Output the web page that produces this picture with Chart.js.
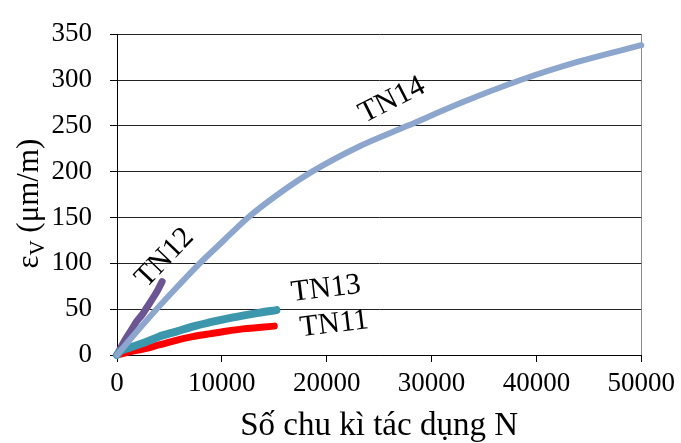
<!DOCTYPE html>
<html>
<head>
<meta charset="utf-8">
<script src="https://cdn.jsdelivr.net/npm/chart.js@4.4.1/dist/chart.umd.min.js"></script>
<style>
  body { margin: 0; background: #fff; }
</style>
</head>
<body>
<canvas id="chart" width="681" height="443"></canvas>
<script>
// Axis ranges / ticks
const xTicks = [0, 10000, 20000, 30000, 40000, 50000];
const yTicks = [0, 50, 100, 150, 200, 250, 300, 350];

// Series (N, strain in µm/m)
const tn14X = [0, 2000, 3770, 5800, 7890, 10000, 12400, 15200, 18600, 23000, 27700, 33000, 38500, 44000, 50000];
const tn14Y = [0, 27, 50, 75, 100, 123, 149, 174, 200, 227, 250, 276, 300, 320, 338];

const tn12X = [0, 500, 900, 1400, 1900, 2400, 2800, 3300, 3800, 4300];
const tn12Y = [0, 11, 19, 28, 37, 44, 51, 60, 69, 80];

const tn13X = [0, 300, 1200, 2500, 4000, 5650, 7200, 8800, 10400, 12000, 13500, 15200];
const tn13Y = [0, 4, 8, 13, 20, 25.5, 31, 35.5, 39.5, 43, 46, 49];

const tn11X = [0, 1000, 2500, 4000, 5650, 7200, 8800, 10400, 12000, 13500, 15000];
const tn11Y = [0, 3, 6.5, 11, 16, 20, 23, 26, 28.5, 30, 31.5];

const seriesNames = ['TN14', 'TN13', 'TN12', 'TN11'];

const FONT = "'Liberation Serif', 'Times New Roman', serif";

function toPoints(xs, ys) {
    return xs.map((x, i) => ({ x: x, y: ys[i] }));
}

function lineDataset(label, xs, ys, color, width, order) {
    return {
        label: label,
        data: toPoints(xs, ys),
        borderColor: color,
        backgroundColor: color,
        borderWidth: width,
        borderCapStyle: 'round',
        borderJoinStyle: 'round',
        pointRadius: 0,
        showLine: true,
        cubicInterpolationMode: 'monotone',
        clip: false,
        order: order
    };
}

/**
 * Rotated series labels + y axis title with subscript
 */
const annotations = {
    id: 'annotations',
    afterDraw(chart, args, opts) {
        const ctx = chart.ctx;
        const xs = chart.scales.x;
        const ys = chart.scales.y;

        ctx.save();
        ctx.fillStyle = '#000';
        ctx.textAlign = 'center';
        ctx.textBaseline = 'middle';
        ctx.font = '30px ' + FONT;
        opts.labels.forEach(l => {
            ctx.save();
            ctx.translate(xs.getPixelForValue(l.x), ys.getPixelForValue(l.y));
            ctx.rotate(l.angle * Math.PI / 180);
            ctx.fillText(l.text, 0, 0);
            ctx.restore();
        });
        ctx.restore();

        // y title: εV (µm/m), drawn rotated with a subscript V
        ctx.save();
        const big = '31px ' + FONT;
        const small = '21px ' + FONT;
        ctx.font = big;
        const wEps = ctx.measureText('ε').width;
        const wRest = ctx.measureText(' (μm/m)').width;
        ctx.font = small;
        const wSub = ctx.measureText('V').width;
        const total = wEps + wSub + wRest;
        const cy = (chart.chartArea.top + chart.chartArea.bottom) / 2 + 9;

        ctx.translate(opts.titleX, cy);
        ctx.rotate(-Math.PI / 2);
        ctx.fillStyle = '#000';
        ctx.textBaseline = 'alphabetic';
        ctx.textAlign = 'left';
        let pos = -total / 2;
        ctx.font = big;
        ctx.fillText('ε', pos, 10);
        pos += wEps;
        ctx.font = small;
        ctx.fillText('V', pos, 16);
        pos += wSub;
        ctx.font = big;
        ctx.fillText(' (μm/m)', pos, 10);
        ctx.restore();
    }
};

const ctx = document.getElementById('chart').getContext('2d');

new Chart(ctx, {
    type: 'scatter',
    data: {
        datasets: [
            lineDataset(seriesNames[0], tn14X, tn14Y, '#8DA6CE', 6, 0),
            lineDataset(seriesNames[1], tn13X, tn13Y, '#3C97AD', 8, 1),
            lineDataset(seriesNames[2], tn12X, tn12Y, '#6B5593', 7, 2),
            lineDataset(seriesNames[3], tn11X, tn11Y, '#FF0000', 7, 3)
        ]
    },
    options: {
        responsive: false,
        animation: false,
        layout: {
            padding: { top: 25, right: 38, left: 0, bottom: 0 }
        },
        plugins: {
            legend: { display: false },
            tooltip: { enabled: false },
            annotations: {
                titleX: 28,
                labels: [
                    { text: 'TN14', x: 26236, y: 278, angle: -27 },
                    { text: 'TN12', x: 4560, y: 106, angle: -46 },
                    { text: 'TN13', x: 19930, y: 72, angle: -7 },
                    { text: 'TN11', x: 20720, y: 33.5, angle: -7 }
                ]
            }
        },
        scales: {
            x: {
                type: 'linear',
                min: xTicks[0],
                max: xTicks[xTicks.length - 1],
                afterBuildTicks: scale => { scale.ticks = xTicks.map(v => ({ value: v })); },
                afterFit: scale => { scale.height = 88; },
                border: { display: true, color: '#000', width: 1 },
                grid: {
                    drawOnChartArea: true,
                    drawTicks: true,
                    tickLength: 7,
                    tickColor: '#000',
                    color: c => (c.tick && c.tick.value === 50000) ? '#8a8a8a' : 'rgba(0,0,0,0)'
                },
                ticks: {
                    color: '#000',
                    font: { family: FONT, size: 27 },
                    padding: 6,
                    maxRotation: 0,
                    callback: v => String(v)
                },
                title: {
                    display: true,
                    text: 'Số chu kì tác dụng N',
                    color: '#000',
                    font: { family: FONT, size: 33, lineHeight: 1.0 },
                    padding: { top: 0, bottom: 0 }
                }
            },
            y: {
                type: 'linear',
                min: yTicks[0],
                max: yTicks[yTicks.length - 1],
                afterBuildTicks: scale => { scale.ticks = yTicks.map(v => ({ value: v })); },
                afterFit: scale => { scale.width = 117; },
                border: { display: true, color: '#000', width: 1 },
                grid: {
                    color: '#222',
                    lineWidth: 1,
                    tickLength: 7,
                    tickColor: '#000'
                },
                ticks: {
                    color: '#000',
                    font: { family: FONT, size: 27 },
                    padding: 18,
                    callback: v => String(v)
                }
            }
        }
    },
    plugins: [annotations]
});
</script>
</body>
</html>
